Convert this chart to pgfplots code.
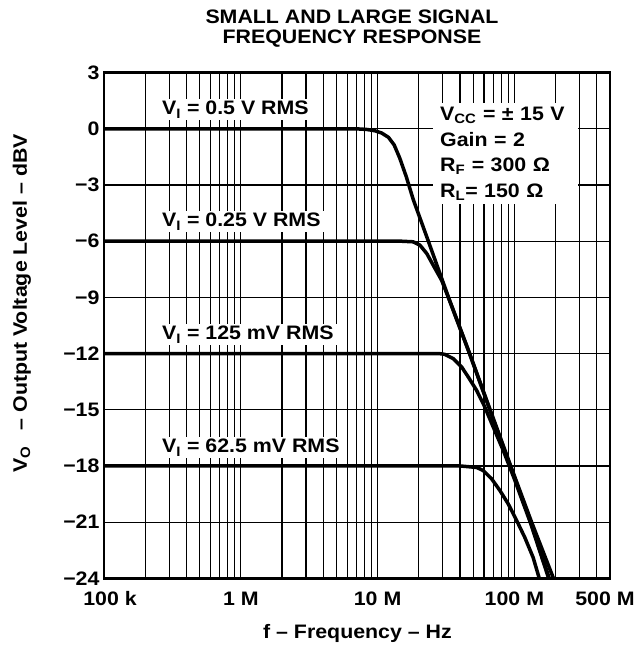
\documentclass[border=0pt]{standalone}
\usepackage{fontspec}
\setmainfont{Liberation Sans}[FakeStretch=1.095]
\usepackage{pgfplots}
\pgfplotsset{compat=1.18}
\newcommand\F{\fontsize{19.5}{23}\selectfont\bfseries}
\begin{document}
\begin{tikzpicture}[x=1pt,y=1pt]
\useasboundingbox (-104,-67.7) rectangle (534,578.3);
\begin{axis}[
  at={(0,0)}, anchor=south west,
  scale only axis, width=506pt, height=505.6pt,
  xmode=log, xmin=1e5, xmax=5e8, ymin=-24, ymax=3,
  xtick={1e5,1e6,1e7,1e8,5e8},
  xticklabels={\hspace*{12pt}100 k,1 M,10 M,100 M,500 M\hspace*{10pt}},
  minor xtick={2e5,3e5,4e5,5e5,6e5,7e5,8e5,9e5,2e6,3e6,4e6,5e6,6e6,7e6,8e6,9e6,2e7,3e7,4e7,5e7,6e7,7e7,8e7,9e7,2e8,3e8,4e8},
  ytick={-24,-21,-18,-15,-12,-9,-6,-3,0,3},
  yticklabels={−24,−21,−18,−15,−12,−9,−6,−3,0,3},
  grid=both,
  major grid style={black, line width=1.2pt},
  minor grid style={black, line width=1.2pt},
  axis line style={line width=2.6pt},
  major tick length=0pt, minor tick length=0pt,
  tick style={draw=none},
  ticklabel style={font=\F},
  xticklabel style={yshift=-10pt},
  yticklabel style={xshift=-1pt},
  /pgf/number format/assume math mode=true,
  clip=true,
]
% 0.5 V RMS
\addplot[black, line width=3.5pt, line join=round] coordinates {
 (1e5,0) (7.08e6,0) (8.32e6,-0.03) (9.55e6,-0.1) (1.07e7,-0.22) (1.20e7,-0.45)
 (1.32e7,-0.85) (1.45e7,-1.55) (1.62e7,-2.55) (1.82e7,-3.76) (2.35e7,-6)
 (3.30e7,-9) (4.71e7,-12) (6.61e7,-14.95) (9.40e7,-18) (1.32e8,-20.9) (1.93e8,-24)
};
% 0.25 V RMS
\addplot[black, line width=3.5pt, line join=round] coordinates {
 (1e5,-6) (1.5e7,-6) (1.82e7,-6.03) (2.04e7,-6.21) (2.29e7,-6.66) (2.55e7,-7.28)
 (2.94e7,-8.09) (3.31e7,-9.05) (4.71e7,-12.02) (6.61e7,-15.0) (9.33e7,-18.0)
 (1.26e8,-20.6) (1.80e8,-24)
};
% 125 mV RMS
\addplot[black, line width=3.5pt, line join=round] coordinates {
 (1e5,-12) (2.82e7,-12.0) (3.09e7,-12.04) (3.58e7,-12.27) (4.12e7,-12.72)
 (4.60e7,-13.25) (5.30e7,-13.97) (6.03e7,-14.8) (7.08e7,-16.0) (8.32e7,-17.2)
 (1.0e8,-18.7) (1.32e8,-21.1) (1.78e8,-24)
};
% 62.5 mV RMS
\addplot[black, line width=3.5pt, line join=round] coordinates {
 (1e5,-18) (4.0e7,-18.0) (5.30e7,-18.08) (5.93e7,-18.25) (6.82e7,-18.69)
 (7.85e7,-19.32) (9.02e7,-20.03) (1.04e8,-20.92) (1.19e8,-21.81)
 (1.37e8,-22.88) (1.52e8,-24)
};
\end{axis}
% title
\node[font=\F, anchor=base] at (248,555) {SMALL AND LARGE SIGNAL};
\node[font=\F, anchor=base] at (248,534.3) {FREQUENCY RESPONSE};
% axis labels
\node[font=\F, anchor=base] at (253.5,-60.7) {f – Frequency – Hz};
\node[font=\F, anchor=base, rotate=90] at (-77,275) {V\textsubscript{O}\,\,\, – Output Voltage Level – dBV};
% curve labels
\node[font=\F, anchor=base west, fill=white, inner xsep=7pt, inner ysep=2pt] at (51,463.3) {V\textsubscript{I} = 0.5 V RMS};
\node[font=\F, anchor=base west, fill=white, inner xsep=7pt, inner ysep=2pt] at (51,351.3) {V\textsubscript{I} = 0.25 V RMS};
\node[font=\F, anchor=base west, fill=white, inner xsep=7pt, inner ysep=2pt] at (51,238.3) {V\textsubscript{I} = 125 mV RMS};
\node[font=\F, anchor=base west, fill=white, inner xsep=7pt, inner ysep=2pt] at (51,125.3) {V\textsubscript{I} = 62.5 mV RMS};
% conditions box
\node[anchor=north west, fill=white, align=left, text width=131pt, inner xsep=7pt, inner ysep=4pt,
      font=\fontsize{19.5}{25.5}\selectfont\bfseries] at (329,475.3)
 {V\textsubscript{CC} = ± 15 V\\Gain = 2\\R\textsubscript{F} = 300 Ω\\R\textsubscript{L}= 150 Ω};
\end{tikzpicture}
\end{document}
